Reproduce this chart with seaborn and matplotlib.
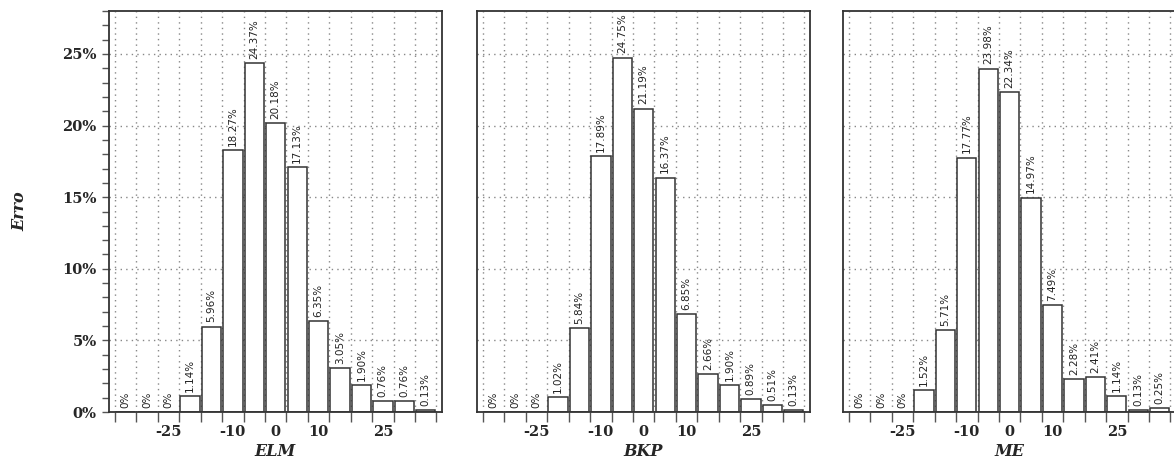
import numpy as np
import pandas as pd
import seaborn as sns
import matplotlib.pyplot as plt
from matplotlib.ticker import FixedLocator, MultipleLocator

# bin centres (error) and the share of samples in each bin, in %
bin_centers = [-35, -30, -25, -20, -15, -10, -5, 0, 5, 10, 15, 20, 25, 30, 35]
bin_edges = [-37.5, -32.5, -27.5, -22.5, -17.5, -12.5, -7.5, -2.5,
             2.5, 7.5, 12.5, 17.5, 22.5, 27.5, 32.5, 37.5]
elm = [0, 0, 0, 1.14, 5.96, 18.27, 24.37, 20.18, 17.13, 6.35, 3.05, 1.90, 0.76, 0.76, 0.13]
bkp = [0, 0, 0, 1.02, 5.84, 17.89, 24.75, 21.19, 16.37, 6.85, 2.66, 1.90, 0.89, 0.51, 0.13]
me = [0, 0, 0, 1.52, 5.71, 17.77, 23.98, 22.34, 14.97, 7.49, 2.28, 2.41, 1.14, 0.13, 0.25]
models = ['ELM', 'BKP', 'ME']
x_labels = [-25, -10, 0, 10, 25]
x_label_text = ['-25', '-10', '0', '10', '25']

df = pd.DataFrame({'erro': bin_centers * 3,
                   'pct': elm + bkp + me,
                   'modelo': [m for m in models for _ in bin_centers]})

sns.set_style('white')
plt.rcParams['font.family'] = ['DejaVu Sans']
plt.rcParams['axes.unicode_minus'] = False

fig = plt.figure(figsize=(11.74, 4.7), dpi=100)
lefts = [109, 477, 843]
tick_font = dict(family='DejaVu Serif', weight='bold', size=10.5)
label_font = dict(family='DejaVu Serif', weight='bold', style='italic', size=11.5)

for i, (model, left) in enumerate(zip(models, lefts)):
    ax = fig.add_axes([left / 1174, 1 - 412 / 470, 333 / 1174, 401 / 470])
    sub = df[df['modelo'] == model]
    sns.histplot(sub, x='erro', weights='pct', bins=bin_edges, shrink=0.9,
                 color='white', edgecolor='#333333', linewidth=1.1, alpha=1,
                 ax=ax)
    vals = sub['pct'].tolist()
    labels = ['0%' if v == 0 else f'{v:.2f}%' for v in vals]
    ax.bar_label(ax.containers[0], labels=labels, rotation=90, padding=3,
                 fontsize=7.5, color='#222222')

    ax.set_xlim(-38.9, 38.8)
    ax.set_ylim(0, 28)

    # x: tick marks at bin edges, labels at selected bin centres
    ax.xaxis.set_major_locator(FixedLocator(bin_edges))
    ax.xaxis.set_minor_locator(FixedLocator(x_labels))
    ax.set_xticklabels([''] * len(bin_edges))
    ax.set_xticklabels(x_label_text, minor=True, **tick_font)
    ax.tick_params(axis='x', which='major', direction='out', length=7,
                   width=1, color='#555555', bottom=True)
    ax.tick_params(axis='x', which='minor', length=0, pad=9)

    ax.yaxis.set_major_locator(MultipleLocator(5))
    ax.yaxis.set_minor_locator(MultipleLocator(1))
    if i == 0:
        ax.set_yticks([0, 5, 10, 15, 20, 25])
        ax.set_yticklabels(['0%', '5%', '10%', '15%', '20%', '25%'], **tick_font)
        ax.tick_params(axis='y', which='both', direction='out', length=5,
                       width=1, color='#555555', left=True, pad=4)
        ax.set_ylabel('Erro', labelpad=24, **label_font)
    else:
        ax.tick_params(axis='y', which='both', left=False, labelleft=False)
        ax.set_ylabel('')
    ax.set_xlabel(model, labelpad=3, **label_font)

    ax.grid(True, which='major', color='#888888', linestyle=(0, (1, 3)),
            linewidth=1.0)
    ax.set_axisbelow(True)
    for s in ax.spines.values():
        s.set_visible(True)
        s.set_color('#333333')
        s.set_linewidth(1.3)

fig.savefig('out.png', dpi=100)
